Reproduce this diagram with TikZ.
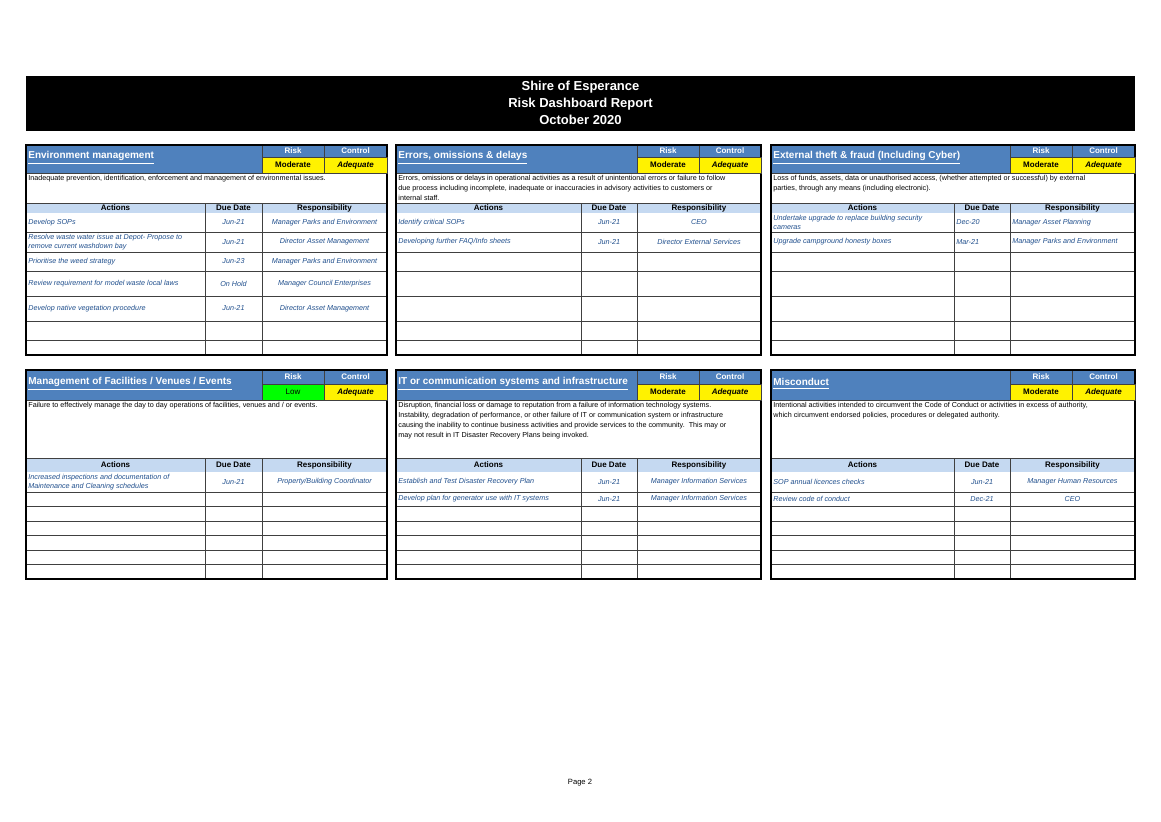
\documentclass[tikz,border=0pt]{standalone}
\usepackage{fontspec}
\setmainfont{Liberation Sans}
\definecolor{hdrblue}{HTML}{4F81BD}
\definecolor{actblue}{HTML}{C5D9F1}
\definecolor{txtblue}{HTML}{1F4E8C}
\definecolor{rulegray}{HTML}{404040}
\tikzset{
  body/.style={inner sep=0pt,font=\fontsize{3.6}{5}\selectfont},
  act/.style={body,anchor=west,align=left,text=txtblue,font=\fontsize{3.6}{4.6}\selectfont\itshape},
  cen/.style={body,text=txtblue,font=\fontsize{3.6}{4.6}\selectfont\itshape},
  colhead/.style={body,font=\fontsize{4}{5}\selectfont\bfseries},
  ptitle/.style={inner sep=0pt,anchor=west,text=white,font=\fontsize{5}{6}\selectfont\bfseries},
  rchead/.style={inner sep=0pt,text=white,font=\fontsize{4}{5}\selectfont\bfseries},
  rcval/.style={inner sep=0pt,font=\fontsize{4}{5}\selectfont\bfseries},
}
% grid of one panel: x0, due, resp/risk, control, x1
\newcommand\riskgrid[5]{
  \fill[hdrblue] (#1,\yT) rectangle (#5,\yD);
  \fill[actblue] (#1,\yA) rectangle (#5,\yR);
  \draw[rulegray,line width=0.5pt] (#3,\yM) -- (#5,\yM) (#3,\yT) -- (#3,\yD) (#4,\yT) -- (#4,\yD);
  \draw[rulegray,line width=0.5pt] (#1,\yD) -- (#5,\yD) (#1,\yA) -- (#5,\yA);
  \foreach \r in \rowlines {\draw[rulegray,line width=0.5pt] (#1,\r) -- (#5,\r);}
  \draw[rulegray,line width=0.5pt] (#2,\yA) -- (#2,\yB) (#3,\yA) -- (#3,\yB);
  \draw[black,line width=0.8pt] (#1,\yT) rectangle (#5,\yB);
  \node[colhead] at ({(#1+#2)/2},{(\yA+\yR)/2}) {Actions};
  \node[colhead] at ({(#2+#3)/2},{(\yA+\yR)/2}) {Due Date};
  \node[colhead] at ({(#3+#5)/2},{(\yA+\yR)/2}) {Responsibility};
  \node[rchead] at ({(#3+#4)/2},{(\yT+\yM)/2}) {Risk};
  \node[rchead] at ({(#4+#5)/2},{(\yT+\yM)/2}) {Control};
  \fill[yellow] (#4,\yM) rectangle (#5,\yD);
  \draw[rulegray,line width=0.5pt] (#4,\yM) rectangle (#5,\yD);
  \node[rcval] at ({(#4+#5)/2},{(\yM+\yD)/2}) {\itshape Adequate};
}
\begin{document}
\begin{tikzpicture}[x=0.5pt,y=-0.5pt]
\useasboundingbox (0,0) rectangle (1161,821);
% title bar
\fill[black] (26,76) rectangle (1135,131);
\node[text=white,align=center,font=\fontsize{6.5}{8.4}\selectfont\bfseries] (title) at (580.5,103)
  {Shire of Esperance\\Risk Dashboard Report\\October 2020};

% top row of panels
\def\yT{145}\def\yM{157}\def\yD{173}\def\yA{203}\def\yR{213}\def\yB{355}
\def\rowlines{232,252,271,296,321,340}
\riskgrid{26}{205}{262}{324}{387}
\riskgrid{396}{581}{637}{699}{761}
\riskgrid{771}{954}{1010}{1072}{1135}
\fill[yellow] (262,157) rectangle (324,173); \draw[rulegray,line width=0.5pt] (262,157) rectangle (324,173);
\fill[yellow] (637,157) rectangle (699,173); \draw[rulegray,line width=0.5pt] (637,157) rectangle (699,173);
\fill[yellow] (1010,157) rectangle (1072,173); \draw[rulegray,line width=0.5pt] (1010,157) rectangle (1072,173);
\node[rcval] (envRisk) at (293,165) {Moderate};
\node[rcval] (errRisk) at (668,165) {Moderate};
\node[rcval] (extRisk) at (1041,165) {Moderate};

\node[ptitle] (envT) at (28,158) {\underline{Environment management}};
\node[body,anchor=north west,align=left] (envD) at (28,175) {Inadequate prevention, identification, enforcement and management of environmental issues.};
\node[act] (envA1) at (28,222.5) {Develop SOPs};
\node[act] (envA2) at (28,242) {Resolve waste water issue at Depot- Propose to\\remove current washdown bay};
\node[act] (envA3) at (28,261.5) {Prioritise the weed strategy};
\node[act] (envA4) at (28,283.5) {Review requirement for model waste local laws};
\node[act] (envA5) at (28,308.5) {Develop native vegetation procedure};
\node[cen] (envD1) at (233.5,222.5) {Jun-21};
\node[cen] (envD2) at (233.5,242) {Jun-21};
\node[cen] (envD3) at (233.5,261.5) {Jun-23};
\node[cen] (envD4) at (233.5,283.5) {On Hold};
\node[cen] (envD5) at (233.5,308.5) {Jun-21};
\node[cen] (envR1) at (324.5,222.5) {Manager Parks and Environment};
\node[cen] (envR2) at (324.5,242) {Director Asset Management};
\node[cen] (envR3) at (324.5,261.5) {Manager Parks and Environment};
\node[cen] (envR4) at (324.5,283.5) {Manager Council Enterprises};
\node[cen] (envR5) at (324.5,308.5) {Director Asset Management};

\node[ptitle] (errT) at (398,158) {\underline{Errors, omissions \& delays}};
\node[body,anchor=north west,align=left] (errD) at (398,175) {Errors, omissions or delays in operational activities as a result of unintentional errors or failure to follow\\due process including incomplete, inadequate or inaccuracies in advisory activities to customers or\\internal staff.};
\node[act] (errA1) at (398,222.5) {Identify critical SOPs};
\node[act] (errA2) at (398,242) {Developing further FAQ/Info sheets};
\node[cen] (errD1) at (609,222.5) {Jun-21};
\node[cen] (errD2) at (609,242) {Jun-21};
\node[cen] (errR1) at (699,222.5) {CEO};
\node[cen] (errR2) at (699,242) {Director External Services};

\node[ptitle] (extT) at (773,158) {\underline{External theft \& fraud (Including Cyber)}};
\node[body,anchor=north west,align=left] (extD) at (773,175) {Loss of funds, assets, data or unauthorised access, (whether attempted or successful) by external\\parties, through any means (including electronic).};
\node[act] (extA1) at (773,222.5) {Undertake upgrade to replace building security\\cameras};
\node[act] (extA2) at (773,242) {Upgrade campground honesty boxes};
\node[act] (extD1) at (956,222.5) {Dec-20};
\node[act] (extD2) at (956,242) {Mar-21};
\node[act] (extR1) at (1012,222.5) {Manager Asset Planning};
\node[act] (extR2) at (1012,242) {Manager Parks and Environment};

% bottom row of panels
\def\yT{370}\def\yM{384}\def\yD{400}\def\yA{458}\def\yR{472}\def\yB{579}
\def\rowlines{492,506,521,535,550,564}
\riskgrid{26}{205}{262}{324}{387}
\riskgrid{396}{581}{637}{699}{761}
\riskgrid{771}{954}{1010}{1072}{1135}
\fill[green] (262,384) rectangle (324,400); \draw[rulegray,line width=0.5pt] (262,384) rectangle (324,400);
\fill[yellow] (637,384) rectangle (699,400); \draw[rulegray,line width=0.5pt] (637,384) rectangle (699,400);
\fill[yellow] (1010,384) rectangle (1072,400); \draw[rulegray,line width=0.5pt] (1010,384) rectangle (1072,400);
\node[rcval,font=\fontsize{4}{5}\selectfont] (facRisk) at (293,392) {Low};
\node[rcval] (itRisk) at (668,392) {Moderate};
\node[rcval] (misRisk) at (1041,392) {Moderate};

\node[ptitle] (facT) at (28,384) {\underline{Management of Facilities / Venues / Events}};
\node[body,anchor=north west,align=left] (facD) at (28,402) {Failure to effectively manage the day to day operations of facilities, venues and / or events.};
\node[act] (facA1) at (28,482) {Increased inspections and documentation of\\Maintenance and Cleaning schedules};
\node[cen] (facD1) at (233.5,482) {Jun-21};
\node[cen] (facR1) at (324.5,482) {Property/Building Coordinator};

\node[ptitle] (itT) at (398,384) {\underline{IT or communication systems and infrastructure}};
\node[body,anchor=north west,align=left] (itD) at (398,402) {Disruption, financial loss or damage to reputation from a failure of information technology systems.\\Instability, degradation of performance, or other failure of IT or communication system or infrastructure\\causing the inability to continue business activities and provide services to the community.\ \ This may or\\may not result in IT Disaster Recovery Plans being invoked.};
\node[act] (itA1) at (398,482) {Establish and Test Disaster Recovery Plan};
\node[act] (itA2) at (398,499) {Develop plan for generator use with IT systems};
\node[cen] (itD1) at (609,482) {Jun-21};
\node[cen] (itD2) at (609,499) {Jun-21};
\node[cen] (itR1) at (699,482) {Manager Information Services};
\node[cen] (itR2) at (699,499) {Manager Information Services};

\node[ptitle] (misT) at (773,384) {\underline{Misconduct}};
\node[body,anchor=north west,align=left] (misD) at (773,402) {Intentional activities intended to circumvent the Code of Conduct or activities in excess of authority,\\which circumvent endorsed policies, procedures or delegated authority.};
\node[act] (misA1) at (773,482) {SOP annual licences checks};
\node[act] (misA2) at (773,499) {Review code of conduct};
\node[cen] (misD1) at (982,482) {Jun-21};
\node[cen] (misD2) at (982,499) {Dec-21};
\node[cen] (misR1) at (1072.5,482) {Manager Human Resources};
\node[cen] (misR2) at (1072.5,499) {CEO};

\node[body,font=\fontsize{3.8}{5}\selectfont] (page) at (580,783) {Page 2};
\end{tikzpicture}
\end{document}
